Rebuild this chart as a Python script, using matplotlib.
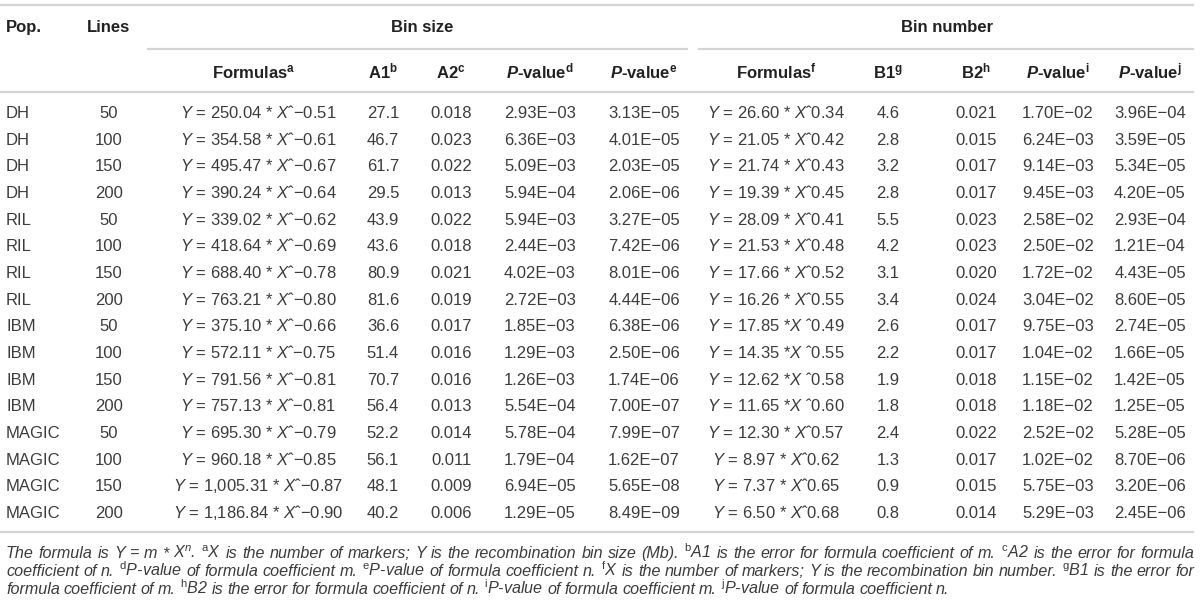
import matplotlib
matplotlib.use("Agg")

import matplotlib.pyplot as plt

# -------------------------------
# Table values
# -------------------------------
pop = ["DH"] * 4 + ["RIL"] * 4 + ["IBM"] * 4 + ["MAGIC"] * 4
lines = [50, 100, 150, 200] * 4

size_m = ["250.04", "354.58", "495.47", "390.24", "339.02", "418.64", "688.40", "763.21",
          "375.10", "572.11", "791.56", "757.13", "695.30", "960.18", "1,005.31", "1,186.84"]
size_n = ["-0.51", "-0.61", "-0.67", "-0.64", "-0.62", "-0.69", "-0.78", "-0.80",
          "-0.66", "-0.75", "-0.81", "-0.81", "-0.79", "-0.85", "-0.87", "-0.90"]
a1 = ["27.1", "46.7", "61.7", "29.5", "43.9", "43.6", "80.9", "81.6",
      "36.6", "51.4", "70.7", "56.4", "52.2", "56.1", "48.1", "40.2"]
a2 = ["0.018", "0.023", "0.022", "0.013", "0.022", "0.018", "0.021", "0.019",
      "0.017", "0.016", "0.016", "0.013", "0.014", "0.011", "0.009", "0.006"]
p_d = ["2.93E-03", "6.36E-03", "5.09E-03", "5.94E-04", "5.94E-03", "2.44E-03", "4.02E-03", "2.72E-03",
       "1.85E-03", "1.29E-03", "1.26E-03", "5.54E-04", "5.78E-04", "1.79E-04", "6.94E-05", "1.29E-05"]
p_e = ["3.13E-05", "4.01E-05", "2.03E-05", "2.06E-06", "3.27E-05", "7.42E-06", "8.01E-06", "4.44E-06",
       "6.38E-06", "2.50E-06", "1.74E-06", "7.00E-07", "7.99E-07", "1.62E-07", "5.65E-08", "8.49E-09"]

num_m = ["26.60", "21.05", "21.74", "19.39", "28.09", "21.53", "17.66", "16.26",
         "17.85", "14.35", "12.62", "11.65", "12.30", "8.97", "7.37", "6.50"]
num_n = ["0.34", "0.42", "0.43", "0.45", "0.41", "0.48", "0.52", "0.55",
         "0.49", "0.55", "0.58", "0.60", "0.57", "0.62", "0.65", "0.68"]
b1 = ["4.6", "2.8", "3.2", "2.8", "5.5", "4.2", "3.1", "3.4",
      "2.6", "2.2", "1.9", "1.8", "2.4", "1.3", "0.9", "0.8"]
b2 = ["0.021", "0.015", "0.017", "0.017", "0.023", "0.023", "0.020", "0.024",
      "0.017", "0.017", "0.018", "0.018", "0.022", "0.017", "0.015", "0.014"]
p_i = ["1.70E-02", "6.24E-03", "9.14E-03", "9.45E-03", "2.58E-02", "2.50E-02", "1.72E-02", "3.04E-02",
       "9.75E-03", "1.04E-02", "1.15E-02", "1.18E-02", "2.52E-02", "1.02E-02", "5.75E-03", "5.29E-03"]
p_j = ["3.96E-04", "3.59E-05", "5.34E-05", "4.20E-05", "2.93E-04", "1.21E-04", "4.43E-05", "8.60E-05",
       "2.74E-05", "1.66E-05", "1.42E-05", "1.25E-05", "5.28E-05", "8.70E-06", "3.20E-06", "2.45E-06"]

footnotes = [
    r"The formula is Y = m * X$^{n}$. $^{\mathrm{a}}$X is the number of markers; Y is the recombination bin size (Mb). "
    r"$^{\mathrm{b}}$A1 is the error for formula coefficient of m. $^{\mathrm{c}}$A2 is the error for formula",
    r"coefficient of n. $^{\mathrm{d}}$P-value of formula coefficient m. $^{\mathrm{e}}$P-value of formula coefficient n. "
    r"$^{\mathrm{f}}$X is the number of markers; Y is the recombination bin number. $^{\mathrm{g}}$B1 is the error for",
    r"formula coefficient of m. $^{\mathrm{h}}$B2 is the error for formula coefficient of n. "
    r"$^{\mathrm{i}}$P-value of formula coefficient m. $^{\mathrm{j}}$P-value of formula coefficient n.",
]

# -------------------------------
# Style
# -------------------------------
plt.rcParams["font.family"] = ["Liberation Sans", "DejaVu Sans"]
plt.rcParams["mathtext.fontset"] = "custom"
plt.rcParams["mathtext.rm"] = "Liberation Sans"
plt.rcParams["mathtext.it"] = "Liberation Sans:italic"
plt.rcParams["mathtext.bf"] = "Liberation Sans:bold"
plt.rcParams["mathtext.bfit"] = "Liberation Sans:italic:bold"

W, H = 1200, 605
fig = plt.figure(figsize=(W / 100, H / 100), dpi=100)

TXT = "#3c3c3c"
HEAD = "#222222"
RULE = "#d4d4d4"
FS = 12.0
FS_FOOT = 11.6


def fx(x):
    return x / W


def fy(y):
    return 1 - y / H


def put(x, y, s, ha="center", fs=FS, **kw):
    # y is the visual centre of the capitals, convert to baseline
    base = y + 0.36 * fs * 100 / 72
    kw.setdefault("color", TXT)
    return fig.text(fx(x), fy(base), s, ha=ha, va="baseline", fontsize=fs, **kw)


def rule(x0, x1, y, lw=1.6):
    fig.add_artist(plt.Line2D([fx(x0), fx(x1)], [fy(y), fy(y)], color=RULE, lw=lw))


def minus(s):
    return s.replace("-", "\u2212")


# -------------------------------
# Rules
# -------------------------------
rule(0, 1193, 5)
rule(148, 687, 49)
rule(699, 1193, 49)
rule(0, 1193, 92)
rule(0, 1193, 532)

# -------------------------------
# Header
# -------------------------------
hb = dict(weight="bold", color=HEAD)
put(6, 26, "Pop.", ha="left", **hb)
put(109, 26, "Lines", **hb)
put(422, 26, "Bin size", **hb)
put(947, 26, "Bin number", **hb)

cols = {"fa": 254, "a1": 383, "a2": 451, "pd": 540, "pe": 644,
        "ff": 776, "b1": 888, "b2": 976, "pi": 1058, "pj": 1150}

put(cols["fa"], 72, r"Formulas$^{\mathbf{a}}$", **hb)
put(cols["a1"], 72, r"A1$^{\mathbf{b}}$", **hb)
put(cols["a2"], 72, r"A2$^{\mathbf{c}}$", **hb)
put(cols["pd"], 72, r"$\mathbfit{P}$-value$^{\mathbf{d}}$", **hb)
put(cols["pe"], 72, r"$\mathbfit{P}$-value$^{\mathbf{e}}$", **hb)
put(cols["ff"], 72, r"Formulas$^{\mathbf{f}}$", **hb)
put(cols["b1"], 72, r"B1$^{\mathbf{g}}$", **hb)
put(cols["b2"], 72, r"B2$^{\mathbf{h}}$", **hb)
put(cols["pi"], 72, r"$\mathbfit{P}$-value$^{\mathbf{i}}$", **hb)
put(cols["pj"], 72, r"$\mathbfit{P}$-value$^{\mathbf{j}}$", **hb)

# -------------------------------
# Body
# -------------------------------
row0, dy = 112, 26.67
for i in range(len(pop)):
    y = row0 + i * dy
    put(6, y, pop[i], ha="left")
    put(109, y, str(lines[i]))
    put(cols["fa"] + 4, y, "$Y$ = " + size_m[i] + " * $X$\u02c6" + minus(size_n[i]))
    put(cols["a1"], y, a1[i])
    put(cols["a2"], y, a2[i])
    put(cols["pd"], y, minus(p_d[i]))
    put(cols["pe"], y, minus(p_e[i]))
    if pop[i] == "IBM":
        f = "$Y$ = " + num_m[i] + " *$X$ \u02c6" + num_n[i]
    else:
        f = "$Y$ = " + num_m[i] + " * $X$\u02c6" + num_n[i]
    put(cols["ff"], y, f)
    put(cols["b1"], y, b1[i])
    put(cols["b2"], y, b2[i])
    put(cols["pi"], y, minus(p_i[i]))
    put(cols["pj"], y, minus(p_j[i]))

# -------------------------------
# Footnotes (justified, last line left aligned)
# -------------------------------
renderer = fig.canvas.get_renderer()
left, right = 6, 1194
for k, line in enumerate(footnotes):
    y = 552 + k * 18
    words = line.split(" ")
    arts = [put(left, y, w, ha="left", fs=FS_FOOT, style="italic") for w in words]
    widths = [a.get_window_extent(renderer).width for a in arts]
    gap = (right - left - sum(widths)) / (len(words) - 1)
    if k == len(footnotes) - 1:
        gap = 0.24 * FS_FOOT * 100 / 72
    x = left
    for a, w in zip(arts, widths):
        a.set_x(fx(x))
        x += w + gap

fig.savefig("out.png", dpi=100)
